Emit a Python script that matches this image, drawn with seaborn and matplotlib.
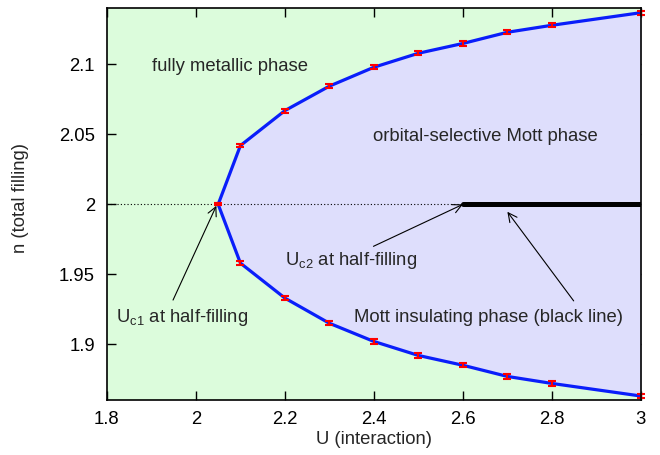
import matplotlib
matplotlib.use("Agg")
import matplotlib.pyplot as plt
import seaborn as sns
import numpy as np
import pandas as pd

# Data
U = [2.05, 2.1, 2.2, 2.3, 2.4, 2.5, 2.6, 2.7, 2.8, 3.0]
n_upper = [2.0, 2.042, 2.067, 2.0845, 2.098, 2.108, 2.115, 2.123, 2.128, 2.137]
n_lower = [2.0, 1.958, 1.933, 1.915, 1.902, 1.892, 1.885, 1.877, 1.872, 1.863]
n_err = [0.0008, 0.0012, 0.0015, 0.0015, 0.0015, 0.0015, 0.0015, 0.0015, 0.0015, 0.0015]
mott_U = [2.6, 3.0]
mott_n = [2.0, 2.0]
xticks = [1.8, 2.0, 2.2, 2.4, 2.6, 2.8, 3.0]
xticklabels = ["1.8", "2", "2.2", "2.4", "2.6", "2.8", "3"]
yticks = [1.9, 1.95, 2.0, 2.05, 2.1]
yticklabels = ["1.9", "1.95", "2", "2.05", "2.1"]

sns.set_style("ticks")
plt.rcParams['font.family'] = ['Liberation Sans', 'DejaVu Sans']
plt.rcParams['mathtext.fontset'] = 'custom'
plt.rcParams['mathtext.rm'] = 'Liberation Sans'

fig = plt.figure(figsize=(6.6, 4.55), dpi=100)
ax = fig.add_axes([0.162, 0.121, 0.809, 0.8625])

ax.set_xlim(1.8, 3.0)
ax.set_ylim(1.8602, 2.1407)
ax.set_facecolor("#dcfcdc")

ax.fill_between(U, n_lower, n_upper, color="#dedefc", zorder=1, linewidth=0)

# dotted half-filling line
ax.plot([1.8, 2.6], [2.0, 2.0], color="black", linestyle=(0, (1, 2)), linewidth=0.8, zorder=2)
# Mott insulating black line
sns.lineplot(x=mott_U, y=mott_n, ax=ax, color="black", linewidth=3.6, zorder=3)

df_up = pd.DataFrame({"U": U, "n": n_upper})
df_lo = pd.DataFrame({"U": U, "n": n_lower})
sns.lineplot(data=df_up, x="U", y="n", ax=ax, color="#0a1efa", linewidth=2.3, zorder=4)
sns.lineplot(data=df_lo, x="U", y="n", ax=ax, color="#0a1efa", linewidth=2.3, zorder=4)
for ys in (n_upper, n_lower):
    ax.errorbar(U, ys, yerr=n_err, fmt="none", ecolor="red", elinewidth=1.5,
                capsize=3, capthick=1.5, zorder=5, clip_on=False)

fs = 13.3
ax.text(2.077, 2.0952, "fully metallic phase", ha="center", va="baseline", fontsize=fs)
ax.text(2.651, 2.0453, "orbital-selective Mott phase", ha="center", va="baseline", fontsize=fs)
ax.text(2.657, 1.9157, "Mott insulating phase (black line)", ha="center", va="baseline", fontsize=fs)
ax.text(2.2007, 1.9566, r"U$_{\mathrm{c2}}$ at half-filling", ha="left", va="baseline", fontsize=fs)
ax.text(1.8203, 1.9161, r"U$_{\mathrm{c1}}$ at half-filling", ha="left", va="baseline", fontsize=fs)

arrowprops = dict(arrowstyle="->", color="black", lw=0.8, mutation_scale=16, shrinkA=0, shrinkB=0)
ax.annotate("", xy=(2.046, 1.999), xytext=(1.9486, 1.9316), arrowprops=arrowprops)
ax.annotate("", xy=(2.6, 2.0), xytext=(2.399, 1.970), arrowprops=arrowprops)
ax.annotate("", xy=(2.70, 1.9947), xytext=(2.849, 1.931), arrowprops=arrowprops)

ax.set_xticks(xticks)
ax.set_xticklabels(xticklabels)
ax.set_yticks(yticks)
ax.set_yticklabels(yticklabels)
ax.tick_params(direction="in", length=6.5, width=1, top=True, right=True, labelsize=fs, colors="black")
ax.tick_params(axis="x", pad=8)
ax.tick_params(axis="y", pad=8.5)
for s in ax.spines.values():
    s.set_linewidth(1.2)
    s.set_color("black")
    s.set_zorder(6)

ax.set_xlabel("U (interaction)", fontsize=fs)
ax.set_ylabel("n (total filling)", fontsize=fs)
ax.xaxis.set_label_coords(0.5, -0.102)
ax.xaxis.label.set_va("center")
ax.yaxis.set_label_coords(-0.161, 0.515)
ax.yaxis.label.set_va("center")

fig.savefig("out.png", dpi=100)
